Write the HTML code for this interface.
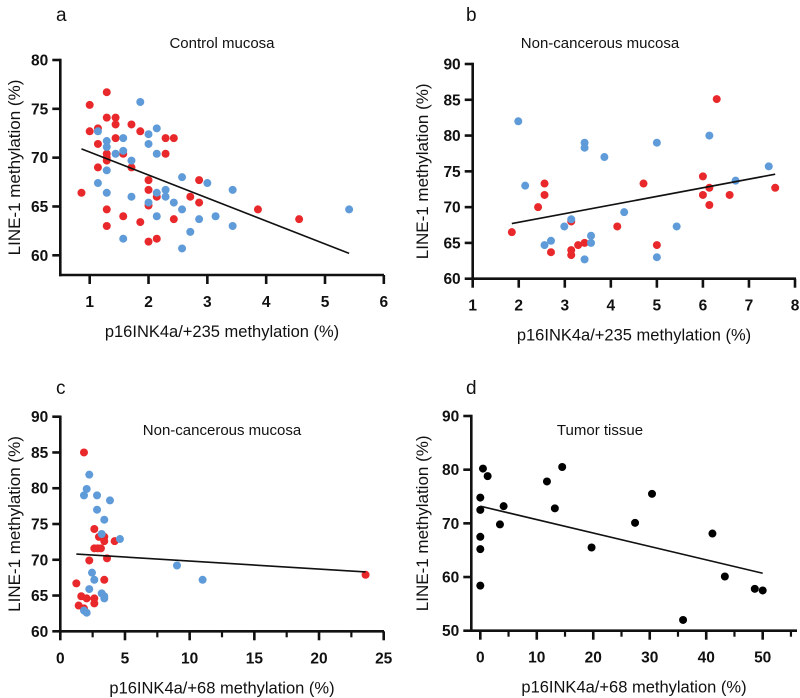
<!DOCTYPE html>
<html><head><meta charset="utf-8">
<style>
html,body{margin:0;padding:0;background:#fff;}
svg{display:block;font-family:"Liberation Sans",Arial,sans-serif;}
</style></head>
<body>
<svg id="chart" width="800" height="698" viewBox="0 0 800 698"></svg>
<script>
// Panel a data
const aRedX=[0.86,1.0,1.0,1.14,1.14,1.14,1.29,1.29,1.29,1.29,1.29,1.29,1.29,1.44,1.44,1.44,1.57,1.57,1.71,1.71,1.86,1.86,2.0,2.0,2.0,2.0,2.14,2.14,2.29,2.29,2.43,2.43,2.71,2.86,2.86,3.86,4.56];
const aRedY=[66.4,75.4,72.7,73.0,71.4,69.0,76.7,74.1,70.4,70.0,69.7,64.7,63.0,74.1,73.4,72.0,70.4,64.0,73.4,69.0,72.7,63.4,67.7,66.7,65.1,61.4,66.0,61.7,72.0,70.4,72.0,63.7,66.0,67.7,65.4,64.7,63.7];
const aBlueX=[1.14,1.14,1.29,1.29,1.29,1.29,1.44,1.57,1.57,1.57,1.71,1.71,1.86,2.0,2.0,2.0,2.14,2.14,2.14,2.14,2.29,2.29,2.43,2.57,2.57,2.57,2.71,2.86,3.0,3.14,3.43,3.43,5.41];
const aBlueY=[72.7,67.4,71.7,71.1,68.7,66.4,70.4,72.0,70.7,61.7,69.7,66.0,75.7,72.4,71.4,65.4,73.0,70.4,66.4,64.0,66.7,66.0,65.4,68.0,64.7,60.7,62.4,63.7,67.4,64.0,66.7,63.0,64.7];
const aFitX=[0.86,5.41], aFitY=[70.9,60.2];
// Panel b data
const bRedX=[1.85,2.42,2.56,2.56,2.70,3.14,3.14,3.14,3.29,3.43,4.14,4.71,5.0,6.0,6.0,6.14,6.14,6.3,6.58,7.57];
const bRedY=[66.5,70.0,73.3,71.7,63.7,68.0,64.0,63.3,64.7,65.0,67.3,73.3,64.7,74.3,71.7,72.7,70.3,85.1,71.7,72.7];
const bBlueX=[1.99,2.14,2.56,2.70,2.99,3.14,3.43,3.43,3.43,3.57,3.57,3.86,4.29,5.0,5.0,5.43,6.14,6.71,7.43];
const bBlueY=[82.0,73.0,64.7,65.3,67.3,68.3,79.0,78.3,62.7,66.0,65.0,77.0,69.3,79.0,63.0,67.3,80.0,73.7,75.7];
const bFitX=[1.85,7.57], bFitY=[67.7,74.6];
// Panel c data
const cRedX=[1.83,1.24,1.62,1.42,1.83,2.04,2.24,2.63,2.63,2.89,3.14,2.99,3.40,3.40,2.63,2.63,3.40,3.61,4.2,23.6];
const cRedY=[85.0,66.7,64.9,63.6,63.2,64.6,69.9,74.3,71.6,71.6,71.6,73.2,73.2,72.6,64.6,63.9,67.2,70.2,72.6,67.9];
const cBlueX=[1.83,2.04,2.24,2.84,2.84,3.40,3.84,3.2,4.61,2.45,2.63,2.24,3.2,3.40,3.40,1.83,2.04,9.02,11.0];
const cBlueY=[79.0,79.9,81.9,79.0,77.0,75.6,78.3,73.6,72.9,68.2,67.2,65.9,65.3,64.9,64.6,62.9,62.6,69.2,67.2];
const cFitX=[1.24,23.6], cFitY=[70.8,68.3];
// Panel d data
const dX=[0,0,0,0,0,0.47,1.3,3.48,4.13,11.8,13.2,14.5,19.7,27.4,30.4,35.9,41.1,43.3,48.6,50.0];
const dY=[74.8,72.5,67.5,65.2,58.4,80.2,78.8,69.8,73.2,77.8,72.8,80.5,65.5,70.1,75.5,52.0,68.1,60.1,57.8,57.5];
const dFitX=[0,50], dFitY=[73.2,60.7];

const aXTicks=[1,2,3,4,5,6], aYTicks=[60,65,70,75,80];
const bXTicks=[1,2,3,4,5,6,7,8], bYTicks=[60,65,70,75,80,85,90];
const cXTicks=[0,5,10,15,20,25], cYTicks=[60,65,70,75,80,85,90];
const dXTicks=[0,10,20,30,40,50], dYTicks=[50,60,70,80,90];

const svg=document.getElementById('chart');
const NS='http://www.w3.org/2000/svg';
function mk(tag,attrs,parent){const e=document.createElementNS(NS,tag);for(const k in attrs)e.setAttribute(k,attrs[k]);(parent||svg).appendChild(e);return e;}
const RED='#e8282b', BLUE='#5f9bd8';
const TICKF={'font-weight':'bold','font-size':'15.5','fill':'#111'};

function panel(p){
  const g=mk('g',{});
  
  
  const sx=v=>p.x0+(v-p.xv0)*(p.x1-p.x0)/(p.xv1-p.xv0);
  const sy=v=>p.y0+(v-p.yv0)*(p.y1-p.y0)/(p.yv1-p.yv0);
  const L=mk('text',{x:p.lx,y:p.ly,'font-size':19,fill:'#111'},g);L.textContent=p.id;
  
  
  const T=mk('text',{x:p.tx,y:p.ty,'font-size':15,fill:'#111','text-anchor':'middle'},g);T.textContent=p.title;
  
  
  const ytop=sy(p.yTicks[p.yTicks.length-1]);
  const ya=mk('line',{x1:p.ax,y1:ytop-1.2,x2:p.ax,y2:p.ay+1.2,stroke:'#111','stroke-width':2.6},g);
  
  
  const xa=mk('line',{x1:p.ax-1.2,y1:p.ay,x2:p.axEnd,y2:p.ay,stroke:'#111','stroke-width':2.6},g);
  
  
  p.yTicks.forEach(v=>{
    const y=sy(v);
    mk('line',{x1:p.ax-8,y1:y,x2:p.ax,y2:y,stroke:'#111','stroke-width':2.6},g);
    const t=mk('text',Object.assign({x:p.ax-12,y:y+5.5,'text-anchor':'end'},TICKF),g);t.textContent=v;
    
    
  });
  p.xTicks.forEach(v=>{
    const x=sx(v);
    mk('line',{x1:x,y1:p.ay,x2:x,y2:p.ay+9,stroke:'#111','stroke-width':2.6},g);
    const t=mk('text',Object.assign({x:x,y:p.ay+32,'text-anchor':'middle'},TICKF),g);t.textContent=v;
    
    
  });
  (p.minor||[]).forEach(v=>{
    const x=sx(v);
    mk('line',{x1:x,y1:p.ay,x2:x,y2:p.ay+6,stroke:'#111','stroke-width':2.2},g);
  });
  const xt=mk('text',{x:p.xtx,y:p.ay+62,'font-size':16.5,fill:'#111','text-anchor':'middle'},g);xt.textContent=p.xtitle;
  
  
  const yc=(ytop+p.ay)/2;
  const yt=mk('text',{x:0,y:0,'font-size':17,fill:'#111','text-anchor':'middle',transform:`translate(${p.ytx},${yc}) rotate(-90)`},g);yt.textContent='LINE-1 methylation (%)';
  
  
  p.series.forEach(s=>{
    s.x.forEach((v,i)=>{
      const c=mk('circle',{cx:sx(v),cy:sy(s.y[i]),r:4,fill:s.color},g);
      
      
    });
  });
  const fl=mk('line',{x1:sx(p.fx[0]),y1:sy(p.fy[0]),x2:sx(p.fx[1]),y2:sy(p.fy[1]),stroke:'#111','stroke-width':1.6},g);
  
  
}

panel({id:'a',title:'Control mucosa',lx:56,ly:21,tx:222,ty:48,
  xv0:1,xv1:5,x0:89.7,x1:325,yv0:60,yv1:80,y0:255.3,y1:60,ax:60.3,ay:275,axEnd:384,
  xTicks:aXTicks,yTicks:aYTicks,xtx:222,xtitle:'p16INK4a/+235 methylation (%)',ytx:20,
  series:[{name:'red',x:aRedX,y:aRedY,color:RED},{name:'blue',x:aBlueX,y:aBlueY,color:BLUE}],fx:aFitX,fy:aFitY});
panel({id:'b',title:'Non-cancerous mucosa',lx:466,ly:21,tx:600,ty:48,
  xv0:1,xv1:8,x0:472.7,x1:795,yv0:60,yv1:90,y0:278.7,y1:64,ax:472.7,ay:278.7,axEnd:796,
  xTicks:bXTicks,yTicks:bYTicks,xtx:634,xtitle:'p16INK4a/+235 methylation (%)',ytx:428,
  series:[{name:'red',x:bRedX,y:bRedY,color:RED},{name:'blue',x:bBlueX,y:bBlueY,color:BLUE}],fx:bFitX,fy:bFitY});
panel({id:'c',title:'Non-cancerous mucosa',lx:56,ly:394,tx:222,ty:435,
  xv0:0,xv1:25,x0:60.3,x1:383.7,yv0:60,yv1:90,y0:631.3,y1:416.7,ax:60.3,ay:631.3,axEnd:384,
  xTicks:cXTicks,yTicks:cYTicks,minor:[2.5,7.5,12.5,17.5,22.5],xtx:222,xtitle:'p16INK4a/+68 methylation (%)',ytx:20,
  series:[{name:'red',x:cRedX,y:cRedY,color:RED},{name:'blue',x:cBlueX,y:cBlueY,color:BLUE}],fx:cFitX,fy:cFitY});
panel({id:'d',title:'Tumor tissue',lx:466,ly:394,tx:600,ty:435,
  xv0:0,xv1:50,x0:480.3,x1:762.7,yv0:50,yv1:90,y0:630.7,y1:416,ax:471.3,ay:630.7,axEnd:797,
  xTicks:dXTicks,yTicks:dYTicks,minor:[5,15,25,35,45,55],xtx:634,xtitle:'p16INK4a/+68 methylation (%)',ytx:428,
  series:[{name:'tumor',x:dX,y:dY,color:'#000'}],fx:dFitX,fy:dFitY});
</script>
</body></html>
